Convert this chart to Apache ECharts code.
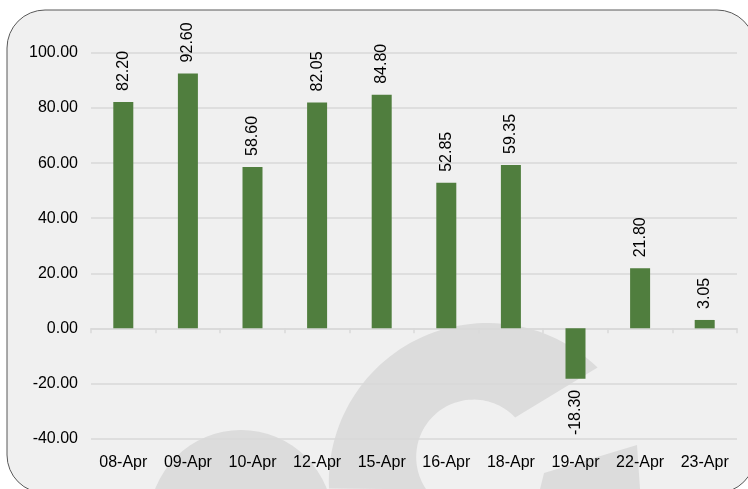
<!DOCTYPE html>
<html>
<head>
<meta charset="utf-8">
<script src="https://cdn.jsdelivr.net/npm/echarts@6/dist/echarts.min.js"></script>
<style>
html,body{margin:0;padding:0;background:#ffffff;}
#chart{width:748px;height:489px;}
</style>
</head>
<body>
<div id="chart"></div>
<script>
var categories = ['08-Apr','09-Apr','10-Apr','12-Apr','15-Apr','16-Apr','18-Apr','19-Apr','22-Apr','23-Apr'];
var values = [82.20, 92.60, 58.60, 82.05, 84.80, 52.85, 59.35, -18.30, 21.80, 3.05];
var yMin = -40, yMax = 100, yStep = 20;

var FONT = 'Liberation Sans';
var barColor = '#507e3e';

// decorative watermark outline (not data)
function arcPts(cx, cy, r, a0, a1, n) {
  var pts = [];
  for (var i = 0; i <= n; i++) {
    var a = (a0 + (a1 - a0) * i / n) * Math.PI / 180;
    pts.push([cx + r * Math.cos(a), cy + r * Math.sin(a)]);
  }
  return pts;
}
var cShape = arcPts(487.4, 481.6, 158.6, 177.5, 314, 60)
  .concat(arcPts(473.6, 457, 57.4, -43.6, -214.3, 60));

var chart = echarts.init(document.getElementById('chart'), null, {renderer: 'canvas'});

var barData = values.map(function (v) {
  return {
    value: v,
    label: v >= 0
      ? {position: 'top', align: 'left', verticalAlign: 'middle', rotate: 90, distance: 11}
      : {position: 'bottom', align: 'right', verticalAlign: 'middle', rotate: 90, distance: 11}
  };
});

chart.setOption({
  backgroundColor: '#ffffff',
  animation: false,
  graphic: [
    {type: 'rect', z: -20, shape: {x: 7, y: 10, width: 748, height: 483, r: 38},
     style: {fill: '#f0f0f0', stroke: '#595959', lineWidth: 1}},
    {type: 'circle', z: -19, shape: {cx: 241, cy: 522, r: 92}, style: {fill: '#dcdcdc'}},
    {type: 'polygon', z: -19, shape: {points: cShape}, style: {fill: '#dcdcdc'}},
    {type: 'polygon', z: -19, shape: {points: [[544, 473], [637, 445], [640, 489], [540, 489]]},
     style: {fill: '#dcdcdc'}}
  ],
  grid: {left: 91, right: 11, top: 53, bottom: 50.5, containLabel: false},
  xAxis: [
    {
      type: 'category', data: categories, position: 'bottom',
      axisLine: {show: false, onZero: false},
      axisTick: {show: false},
      axisLabel: {color: '#000000', fontFamily: FONT, fontSize: 16, margin: 16, interval: 0},
      splitLine: {show: false}
    },
    {
      type: 'category', data: categories, position: 'bottom',
      axisLine: {show: true, onZero: true, lineStyle: {color: '#d9d9d9', width: 1.5}},
      axisTick: {show: true, length: 5, lineStyle: {color: '#d9d9d9', width: 1.5}},
      axisLabel: {show: false},
      splitLine: {show: false}
    }
  ],
  yAxis: {
    type: 'value', min: yMin, max: yMax, interval: yStep,
    axisLine: {show: false}, axisTick: {show: false},
    axisLabel: {color: '#000000', fontFamily: FONT, fontSize: 16, margin: 13,
      formatter: function (v) { return v.toFixed(2); }},
    splitLine: {lineStyle: {color: '#d9d9d9', width: 1.5}}
  },
  series: [{
    type: 'bar', xAxisIndex: 0, data: barData,
    barWidth: 20,
    itemStyle: {color: barColor},
    label: {show: true, color: '#000000', fontFamily: FONT, fontSize: 16,
      formatter: function (p) { return p.value.toFixed(2); }}
  }]
});
</script>
</body>
</html>
